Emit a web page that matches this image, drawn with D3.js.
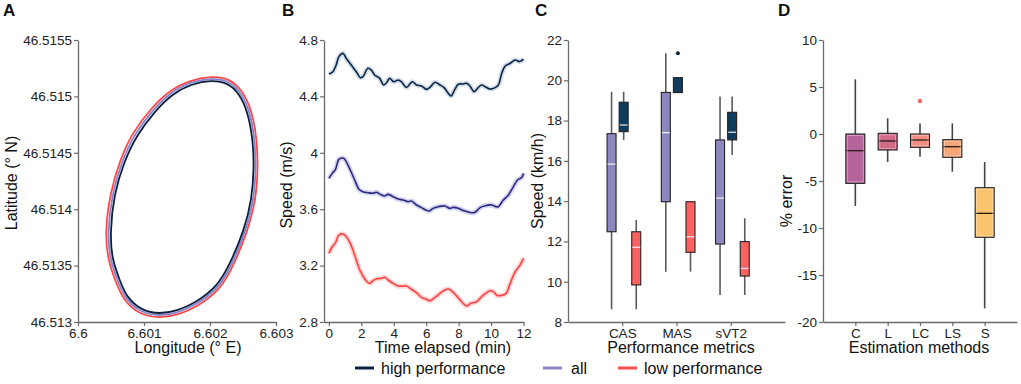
<!DOCTYPE html>
<html>
<head>
<meta charset="utf-8">
<script src="https://cdn.jsdelivr.net/npm/d3@7"></script>
<style>
  body { margin: 0; background: #fff; }
  svg { font-family: "Liberation Sans", Arial, sans-serif; }
</style>
</head>
<body>
<svg id="chart" width="1021" height="384"></svg>
<script>
// panel A: track positions
var lowLon = [6.602045, 6.602303, 6.602485, 6.602636, 6.602712, 6.602727, 6.602697, 6.602561, 6.602348, 6.602152, 6.601803, 6.601515, 6.601242, 6.600939, 6.600682, 6.600561, 6.600455, 6.600409, 6.600485, 6.600636, 6.600818, 6.601121, 6.601394, 6.601697];
var lowLat = [46.515181, 46.515154, 46.515057, 46.514879, 46.514613, 46.514374, 46.514082, 46.513789, 46.513488, 46.513284, 46.513133, 46.513062, 46.513035, 46.513062, 46.513195, 46.513372, 46.513550, 46.513789, 46.514144, 46.514436, 46.514676, 46.514906, 46.515057, 46.515145];
var allLon = [6.602038, 6.602288, 6.602462, 6.602606, 6.602682, 6.602697, 6.602667, 6.602538, 6.602326, 6.602129, 6.601788, 6.601508, 6.601242, 6.600955, 6.600705, 6.600591, 6.600485, 6.600447, 6.600515, 6.600667, 6.600849, 6.601144, 6.601409, 6.601705];
var allLat = [46.515163, 46.515137, 46.515044, 46.514871, 46.514609, 46.514374, 46.514086, 46.513798, 46.513501, 46.513297, 46.513151, 46.513080, 46.513053, 46.513080, 46.513209, 46.513381, 46.513555, 46.513789, 46.514140, 46.514427, 46.514663, 46.514889, 46.515039, 46.515128];
var highLon = [6.602030, 6.602273, 6.602439, 6.602576, 6.602652, 6.602667, 6.602636, 6.602515, 6.602303, 6.602106, 6.601773, 6.601500, 6.601242, 6.600970, 6.600727, 6.600621, 6.600515, 6.600485, 6.600545, 6.600697, 6.600879, 6.601167, 6.601424, 6.601712];
var highLat = [46.515145, 46.515119, 46.515030, 46.514862, 46.514605, 46.514374, 46.514090, 46.513807, 46.513514, 46.513310, 46.513168, 46.513098, 46.513071, 46.513098, 46.513222, 46.513390, 46.513559, 46.513789, 46.514135, 46.514418, 46.514649, 46.514871, 46.515021, 46.515110];
var lonTicks = [6.6, 6.601, 6.602, 6.603];
var latTicks = [46.513, 46.5135, 46.514, 46.5145, 46.515, 46.5155];

// panel B: speed over time
var timeHigh = [0, 0.25, 0.45, 0.62, 0.87, 1.07, 1.38, 1.69, 1.94, 2.10, 2.41, 2.62, 2.82, 3.13, 3.38, 3.55, 3.75, 4.00, 4.27, 4.47, 4.78, 5.15, 5.40, 5.71, 6.02, 6.23, 6.54, 6.85, 7.09, 7.36, 7.53, 7.77, 7.98, 8.29, 8.49, 8.70, 8.95, 9.22, 9.42, 9.63, 9.94, 10.25, 10.45, 10.66, 10.87, 11.18, 11.49, 11.75, 12.0];
var speedHigh = [4.559, 4.575, 4.623, 4.682, 4.705, 4.670, 4.623, 4.575, 4.533, 4.540, 4.599, 4.587, 4.552, 4.528, 4.481, 4.497, 4.528, 4.504, 4.516, 4.504, 4.464, 4.504, 4.481, 4.474, 4.450, 4.464, 4.500, 4.481, 4.464, 4.422, 4.403, 4.450, 4.486, 4.488, 4.493, 4.474, 4.434, 4.464, 4.481, 4.469, 4.452, 4.462, 4.481, 4.564, 4.616, 4.635, 4.658, 4.647, 4.665];
var timeAll = [0, 0.21, 0.41, 0.62, 0.91, 1.07, 1.32, 1.59, 1.86, 2.10, 2.41, 2.72, 2.93, 3.24, 3.44, 3.65, 3.96, 4.27, 4.58, 4.89, 5.09, 5.40, 5.71, 5.98, 6.19, 6.43, 6.74, 7.15, 7.46, 7.67, 7.98, 8.29, 8.60, 8.91, 9.07, 9.32, 9.63, 10.04, 10.31, 10.45, 10.76, 11.07, 11.38, 11.63, 11.90, 12.0];
var speedAll = [3.819, 3.854, 3.883, 3.954, 3.961, 3.937, 3.878, 3.807, 3.741, 3.724, 3.717, 3.713, 3.720, 3.701, 3.694, 3.705, 3.689, 3.672, 3.665, 3.653, 3.658, 3.630, 3.611, 3.594, 3.587, 3.606, 3.618, 3.623, 3.606, 3.613, 3.606, 3.590, 3.580, 3.575, 3.582, 3.611, 3.625, 3.630, 3.618, 3.618, 3.665, 3.701, 3.760, 3.807, 3.826, 3.854];
var timeLow = [0, 0.21, 0.41, 0.62, 0.87, 1.07, 1.32, 1.59, 1.86, 2.10, 2.31, 2.52, 2.72, 2.93, 3.24, 3.44, 3.65, 3.96, 4.27, 4.58, 4.78, 5.09, 5.40, 5.71, 6.02, 6.23, 6.54, 6.85, 7.15, 7.36, 7.57, 7.88, 8.19, 8.49, 8.74, 9.11, 9.42, 9.73, 9.94, 10.14, 10.39, 10.66, 10.93, 11.18, 11.49, 11.79, 12.0];
var speedLow = [3.287, 3.334, 3.363, 3.417, 3.424, 3.405, 3.358, 3.275, 3.181, 3.126, 3.091, 3.074, 3.093, 3.105, 3.110, 3.117, 3.098, 3.074, 3.055, 3.055, 3.055, 3.032, 3.008, 2.975, 2.961, 2.951, 2.975, 3.003, 3.027, 3.034, 3.020, 2.984, 2.944, 2.913, 2.932, 2.944, 2.980, 3.008, 3.022, 3.015, 2.987, 2.989, 3.003, 3.074, 3.157, 3.204, 3.252];
var timeTicks = [0, 2, 4, 6, 8, 10, 12];
var speedTicks = [2.8, 3.2, 3.6, 4, 4.4, 4.8];

// panel C: box stats [min, q1, median, q3, max]
var metrics = ["CAS", "MAS", "sVT2"];
var statsAll = [[8.63, 12.48, 15.84, 17.35, 19.43], [10.5, 13.97, 17.40, 19.40, 21.34], [9.34, 11.87, 14.15, 17.04, 19.19]];
var statsHigh = [[17.04, 17.45, 17.78, 18.91, 19.43], [19.39, 19.39, 20.13, 20.13, 20.13], [16.29, 17.04, 17.42, 18.41, 19.19]];
var statsLow = [[8.63, 9.84, 11.71, 12.48, 13.06], [10.5, 11.46, 12.23, 13.97, 13.97], [9.34, 10.28, 10.66, 11.99, 13.15]];
var outliersHigh = [[], [21.34], []];
var kmhTicks = [8, 10, 12, 14, 16, 18, 20, 22];

// panel D: % error per method
var methods = ["C", "L", "LC", "LS", "S"];
var methodStats = [[-7.66, -5.25, -1.77, 0, 5.82], [-2.98, -1.70, -0.74, 0.07, 1.67], [-2.41, -1.42, -0.64, 0, 1.13], [-4.01, -2.48, -1.35, -0.6, 1.13], [-18.55, -10.99, -8.44, -5.71, -2.98]];
var methodOutliers = [[], [], [3.51], [], []];
var errorTicks = [-20, -15, -10, -5, 0, 5, 10];

var legendLabels = ["high performance", "all", "low performance"];

// colors
var cHigh = "#0c2542", cAll = "#8d87c0", cLow = "#ff4d4d";
var methodColors = ["#b5639a", "#d06a86", "#ee8e82", "#f6a677", "#fbc46d"];

var svg = d3.select("#chart");
var plotTop = 40, plotBottom = 322;

function styleAxis(g) {
    g.select(".domain").attr("stroke", "#6a6a6a").attr("stroke-width", 1.3);
    g.selectAll(".tick line").attr("stroke", "#6a6a6a").attr("stroke-width", 1.2);
    g.selectAll(".tick text").attr("fill", "#222").style("font-size", "13.5px");
}

function addAxes(x, y, xTicks, yTicks, xFmt, yFmt) {
    svg.append("g")
        .attr("transform", "translate(0," + plotBottom + ")")
        .call(d3.axisBottom(x).tickValues(xTicks).tickFormat(xFmt).tickSize(4).tickPadding(2).tickSizeOuter(0))
        .call(styleAxis);
    svg.append("g")
        .attr("transform", "translate(" + x.range()[0] + ",0)")
        .call(d3.axisLeft(y).tickValues(yTicks).tickFormat(yFmt).tickSize(4).tickPadding(2).tickSizeOuter(0))
        .call(styleAxis);
}

function title(x, y, txt, rotate) {
    svg.append("text")
        .attr("transform", "translate(" + x + "," + y + ")" + (rotate ? " rotate(-90)" : ""))
        .attr("text-anchor", "middle")
        .style("font-size", "16px")
        .attr("fill", "#111")
        .text(txt);
}

function letter(x, txt) {
    svg.append("text")
        .attr("x", x).attr("y", 16)
        .style("font-size", "17px")
        .style("font-weight", "bold")
        .attr("fill", "#111")
        .text(txt);
}

// ---------- A ----------
var xA = d3.scaleLinear().domain([6.6, 6.603]).range([78, 276]);
var yA = d3.scaleLinear().domain([46.513, 46.5155]).range([plotBottom, plotTop]);
var track = d3.line()
    .x(function (d) { return xA(d[0]); })
    .y(function (d) { return yA(d[1]); })
    .curve(d3.curveBasisClosed);

[[lowLon, lowLat, "#ff4646"], [allLon, allLat, "#8484cc"], [highLon, highLat, "#0b203d"]].forEach(function (t) {
    svg.append("path")
        .datum(d3.zip(t[0], t[1]))
        .attr("d", track)
        .attr("fill", "none")
        .attr("stroke", t[2])
        .attr("stroke-width", 1.8);
});
addAxes(xA, yA, lonTicks, latTicks, function (d) { return String(+d.toFixed(3)); }, function (d) { return String(+d.toFixed(4)); });
title(188, 353, "Longitude (° E)");
title(17, 183, "Latitude (° N)", true);
letter(3, "A");

// ---------- B ----------
var xB = d3.scaleLinear().domain([-0.3, 12]).range([324, 523.5]);
var yB = d3.scaleLinear().domain([2.8, 4.8]).range([plotBottom, plotTop]);
var speedLine = d3.line()
    .x(function (d) { return xB(d[0]); })
    .y(function (d) { return yB(d[1]); })
    .curve(d3.curveCatmullRom);

[[timeHigh, speedHigh, "#0b2545", "#d3dee8"], [timeAll, speedAll, "#2c2a80", "#d6d3ee"], [timeLow, speedLow, "#ff4040", "#ffd3d3"]].forEach(function (s) {
    var pts = d3.zip(s[0], s[1]);
    // light band
    svg.append("path")
        .datum(pts)
        .attr("d", speedLine)
        .attr("fill", "none")
        .attr("stroke", s[3])
        .attr("stroke-width", 5)
        .attr("stroke-linejoin", "round");
    svg.append("path")
        .datum(pts)
        .attr("d", speedLine)
        .attr("fill", "none")
        .attr("stroke", s[2])
        .attr("stroke-width", 1.6);
});
addAxes(xB, yB, timeTicks, speedTicks, function (d) { return d; }, function (d) { return d; });
title(443, 353, "Time elapsed (min)");
title(292, 185, "Speed (m/s)", true);
letter(282, "B");

// ---------- C ----------
var xC = d3.scaleLinear().domain([0, 4]).range([568, 785]);
var yC = d3.scaleLinear().domain([8, 22]).range([plotBottom, plotTop]);

function drawBox(x, y, cx, w, s, fill, medColor, whiskColor) {
    svg.append("line")
        .attr("x1", cx).attr("x2", cx)
        .attr("y1", y(s[0])).attr("y2", y(s[4]))
        .attr("stroke", whiskColor).attr("stroke-width", 1.6);
    svg.append("rect")
        .attr("x", cx - w / 2).attr("y", y(s[3]))
        .attr("width", w).attr("height", y(s[1]) - y(s[3]))
        .attr("fill", fill)
        .attr("stroke", "#222").attr("stroke-width", 1.1);
    if (s[2] !== s[1] && s[2] !== s[3]) {
        svg.append("line")
            .attr("x1", cx - w / 2 + 0.6).attr("x2", cx + w / 2 - 0.6)
            .attr("y1", y(s[2])).attr("y2", y(s[2]))
            .attr("stroke", medColor).attr("stroke-width", 1.3);
    }
}

metrics.forEach(function (m, i) {
    var c = xC(i + 1);
    drawBox(xC, yC, c - 10.7, 9, statsAll[i], cAll, "#eee", "#5a5a5a");
    drawBox(xC, yC, c + 1.4, 9, statsHigh[i], "#0f3b5c", "#ddd", "#5a5a5a");
    drawBox(xC, yC, c + 14, 9, statsLow[i], "#ff6161", "#fde", "#5a5a5a");
    outliersHigh[i].forEach(function (v) {
        svg.append("circle")
            .attr("cx", c + 1.4).attr("cy", yC(v)).attr("r", 2)
            .attr("fill", cHigh);
    });
});
addAxes(xC, yC, [1, 2, 3], kmhTicks, function (d) { return metrics[d - 1]; }, function (d) { return d; });
title(681, 353, "Performance metrics");
title(543, 181, "Speed (km/h)", true);
letter(535, "C");

// ---------- D ----------
var xD = d3.scaleLinear().domain([0, 6]).range([823, 1017]);
var yD = d3.scaleLinear().domain([-20, 10]).range([plotBottom, plotTop]);

methods.forEach(function (m, i) {
    var c = xD(i + 1);
    drawBox(xD, yD, c, 19, methodStats[i], methodColors[i], "#2a1a1a", "#444");
    // soft inner highlight of the box
    var s = methodStats[i];
    svg.append("rect")
        .attr("x", c - 8).attr("y", yD(s[3]) + 1.5)
        .attr("width", 16).attr("height", Math.max(0, yD(s[1]) - yD(s[3]) - 3))
        .attr("fill", "none")
        .attr("stroke", "#fff").attr("stroke-opacity", 0.35).attr("stroke-width", 1);
    methodOutliers[i].forEach(function (v) {
        svg.append("circle")
            .attr("cx", c).attr("cy", yD(v)).attr("r", 2.2)
            .attr("fill", "#e86a6a");
    });
});
addAxes(xD, yD, [1, 2, 3, 4, 5], errorTicks, function (d) { return methods[d - 1]; }, function (d) { return d; });
title(919, 353, "Estimation methods");
title(792, 201, "% error", true);
letter(778, "D");

// legend
var legendX = [355, 543, 618];
var legendColors = [cHigh, cAll, cLow];
var legend = svg.selectAll(".legend")
    .data(legendLabels)
    .enter()
    .append("g")
    .attr("class", "legend")
    .attr("transform", function (d, i) { return "translate(" + legendX[i] + ",368)"; });

legend.append("line")
    .attr("x1", 0).attr("x2", 19)
    .attr("stroke", function (d, i) { return legendColors[i]; })
    .attr("stroke-width", 3);

legend.append("text")
    .attr("x", function (d, i) { return i === 1 ? 28 : 26; })
    .attr("y", 5.5)
    .style("font-size", "16px")
    .attr("fill", "#111")
    .text(function (d) { return d; });
</script>
</body>
</html>
